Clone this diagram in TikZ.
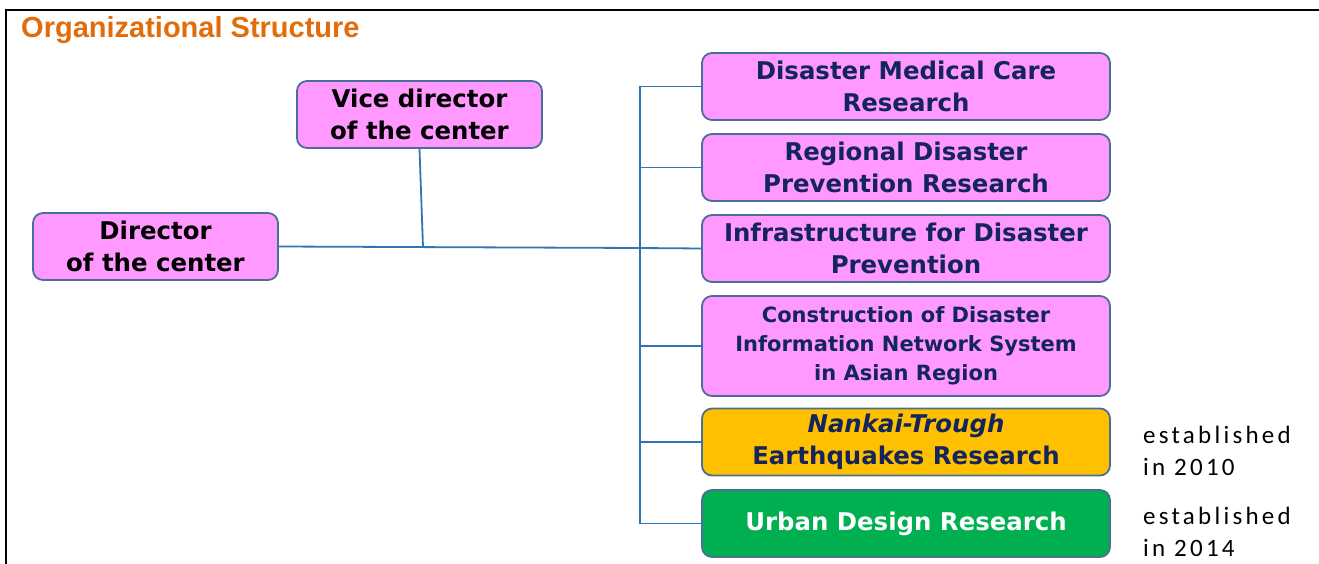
\documentclass[tikz,border=0pt]{standalone}
\usepackage{fontspec}
\setmainfont{DejaVu Sans}
\newfontfamily\titlefont{Liberation Sans}
\newfontfamily\notefont[LetterSpace=13]{Carlito}
\definecolor{pinkfill}{HTML}{FF99FF}
\definecolor{boxedge}{HTML}{4A6E96}
\definecolor{linkblue}{HTML}{2E75B6}
\definecolor{navy}{HTML}{14245C}
\definecolor{titleorange}{HTML}{E36C0A}
\definecolor{amber}{HTML}{FFC000}
\definecolor{leaf}{HTML}{00B050}
\begin{document}
\begin{tikzpicture}[x=1pt,y=-1pt,
  orgbox/.style={draw=boxedge, line width=1.8pt, rounded corners=10pt, fill=pinkfill,
    align=center, inner sep=0pt, font=\bfseries\fontsize{24.4}{32.5}\selectfont},
  headbox/.style={orgbox, minimum width=245pt, minimum height=67pt, text=black},
  unitbox/.style={orgbox, minimum width=408pt, minimum height=67pt, text=navy},
  link/.style={draw=linkblue, line width=1.8pt},
  note/.style={anchor=base west, align=left, inner sep=0pt, font=\notefont\fontsize{25}{32}\selectfont}]
\useasboundingbox (0,0) rectangle (1319,564);
\draw[line width=2.5pt] (1319,10) -- (6,10) -- (6,564);
\node[anchor=base west, inner sep=0pt, text=titleorange, font=\titlefont\bfseries\fontsize{29}{32}\selectfont] (title) at (21,38) {Organizational Structure};

\node[headbox] (dir) at (155.5,246.5) {Director\\of the center};
\node[headbox] (vice) at (419.5,114.5) {Vice director\\of the center};

\node[unitbox] (u1) at (906,86.5) {Disaster Medical Care\\Research};
\node[unitbox] (u2) at (906,167.5) {Regional Disaster\\Prevention Research};
\node[unitbox] (u3) at (906,248.5) {Infrastructure for Disaster\\Prevention};
\node[unitbox, minimum height=100pt, font=\bfseries\fontsize{21}{29}\selectfont] (u4) at (906,346) {Construction of Disaster\\Information Network System\\in Asian Region};
\node[unitbox, fill=amber] (u5) at (906,442) {\textit{Nankai-Trough}\\Earthquakes Research};
\node[unitbox, fill=leaf, text=white] (u6) at (906,523.5) {Urban Design Research};

\node[note] (n1) at (1143,475) {established\\in 2010};
\node[note] (n2) at (1143,556) {established\\in 2014};

\coordinate (trunk) at (640,248);
\coordinate (join) at (423,247);
\draw[link] (dir.east) -- (trunk);
\draw[link] (vice.south) -- (join);
\draw[link] (u1.west) -- (640,86.5) -- (640,523.5) -- (u6.west);
\draw[link] (640,167.5) -- (u2.west);
\draw[link] (trunk) -- (u3.west);
\draw[link] (640,346) -- (u4.west);
\draw[link] (640,442) -- (u5.west);
\end{tikzpicture}
\end{document}
